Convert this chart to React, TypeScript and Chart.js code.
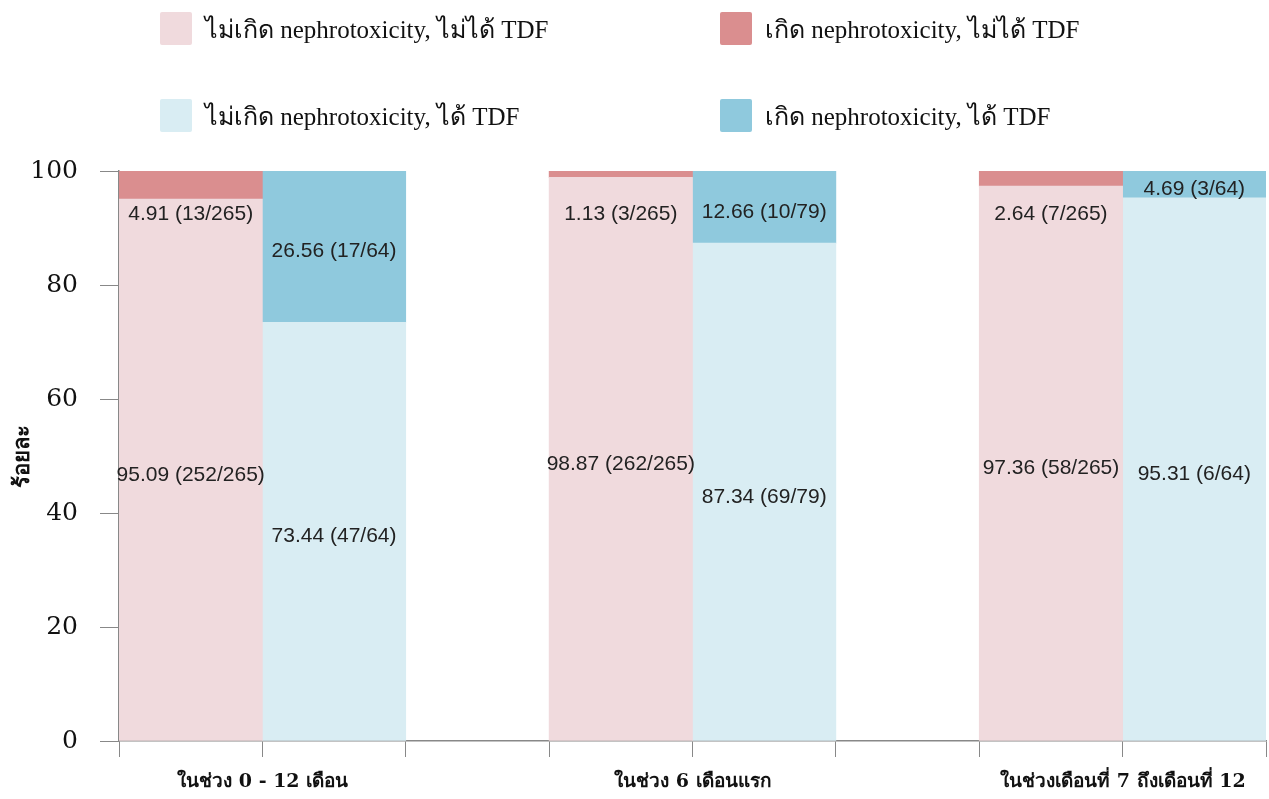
import React, { useEffect, useRef } from 'react';
import { Chart, registerables } from 'chart.js';

Chart.register(...registerables);

// ---- data ----
const categories = ['ในช่วง 0 - 12 เดือน', 'ในช่วง 6 เดือนแรก', 'ในช่วงเดือนที่ 7 ถึงเดือนที่ 12'];
const seriesLabels = [
  'ไม่เกิด nephrotoxicity, ไม่ได้ TDF',
  'เกิด nephrotoxicity, ไม่ได้ TDF',
  'ไม่เกิด nephrotoxicity, ได้ TDF',
  'เกิด nephrotoxicity, ได้ TDF',
];
const noEventNoTDF = [95.09, 98.87, 97.36];
const eventNoTDF = [4.91, 1.13, 2.64];
const noEventTDF = [73.44, 87.34, 95.31];
const eventTDF = [26.56, 12.66, 4.69];
const noEventNoTDFCounts = ['252/265', '262/265', '58/265'];
const eventNoTDFCounts = ['13/265', '3/265', '7/265'];
const noEventTDFCounts = ['47/64', '69/79', '6/64'];
const eventTDFCounts = ['17/64', '10/79', '3/64'];
const yTicks = [0, 20, 40, 60, 80, 100];
const yTitle = 'ร้อยละ';

const colors = ['#f0dadd', '#da8e8f', '#d9edf3', '#8fc9dd'];

const labelPlugin = {
  id: 'segLabels',
  afterDatasetsDraw(chart: any) {
    const ctx = chart.ctx;
    ctx.save();
    ctx.font = '21px "Liberation Sans", Arial, sans-serif';
    ctx.fillStyle = '#222';
    ctx.textAlign = 'center';
    ctx.textBaseline = 'middle';
    chart.data.datasets.forEach((ds: any, di: number) => {
      const meta = chart.getDatasetMeta(di);
      meta.data.forEach((el: any, i: number) => {
        const v = ds.data[i];
        if (v == null) return;
        const { x, y, base } = el.getProps(['x', 'y', 'base'], true);
        let ty = (y + base) / 2 + 5;
        if (ds.minLabelDrop) ty = Math.max(ty, chart.chartArea.top + ds.minLabelDrop);
        ctx.fillText(`${v.toFixed(2)} (${ds.counts[i]})`, x, ty);
      });
    });
    ctx.restore();
  },
};

export default function App() {
  const ref = useRef<HTMLCanvasElement>(null);

  useEffect(() => {
    if (!ref.current) return;
    const groupSize = 3;
    const nSlots = categories.length * groupSize - 1;
    const slotLabels = Array.from({ length: nSlots }, (_, i) =>
      i % groupSize === 0 ? categories[i / groupSize] : ''
    );
    const toSlots = (vals: any[], pos: number) =>
      Array.from({ length: nSlots }, (_, i) =>
        i % groupSize === pos ? vals[Math.floor(i / groupSize)] : null
      );

    const chart = new Chart(ref.current, {
      type: 'bar',
      data: {
        labels: slotLabels,
        datasets: [
          { label: seriesLabels[0], data: toSlots(noEventNoTDF, 0), counts: toSlots(noEventNoTDFCounts, 0), backgroundColor: colors[0] } as any,
          { label: seriesLabels[1], data: toSlots(eventNoTDF, 0), counts: toSlots(eventNoTDFCounts, 0), backgroundColor: colors[1], minLabelDrop: 43 } as any,
          { label: seriesLabels[2], data: toSlots(noEventTDF, 1), counts: toSlots(noEventTDFCounts, 1), backgroundColor: colors[2] } as any,
          { label: seriesLabels[3], data: toSlots(eventTDF, 1), counts: toSlots(eventTDFCounts, 1), backgroundColor: colors[3] } as any,
        ],
      },
      options: {
        animation: false,
        responsive: true,
        maintainAspectRatio: false,
        datasets: { bar: { barPercentage: 1, categoryPercentage: 1, borderWidth: 0 } },
        layout: { padding: { top: 171, left: 0, right: 3, bottom: 0 } },
        plugins: { legend: { display: false }, tooltip: { enabled: false } },
        scales: {
          x: {
            stacked: true,
            grid: { drawOnChartArea: false, drawTicks: true, tickLength: 16, color: '#888', offset: true },
            border: { display: true, color: '#888', width: 1.5 },
            ticks: {
              autoSkip: false,
              maxRotation: 0,
              labelOffset: 72,
              padding: 14,
              color: '#111',
              font: { family: '"DejaVu Serif", serif', size: 19, weight: 'bold' },
            },
            afterFit: (s: any) => { s.height = 58; },
          },
          y: {
            stacked: true,
            min: 0,
            max: 100,
            afterBuildTicks: (s: any) => { s.ticks = yTicks.map((v) => ({ value: v })); },
            grid: { drawOnChartArea: false, drawTicks: true, tickLength: 19, color: '#888' },
            border: { display: true, color: '#888', width: 1.5 },
            ticks: {
              padding: 22,
              color: '#111',
              font: { family: '"DejaVu Serif", serif', size: 25 },
            },
            title: {
              display: true,
              text: yTitle,
              color: '#111',
              font: { family: '"DejaVu Serif", serif', size: 22, weight: 'bold' },
              padding: { top: 10, bottom: 0 },
            },
            afterFit: (s: any) => { s.width = 119; },
          },
        },
      },
      plugins: [labelPlugin],
    });
    return () => chart.destroy();
  }, []);

  const legendRows = [[0, 1], [2, 3]];
  return (
    <div style={{ position: 'fixed', left: 0, top: 0, width: 1269, height: 799, background: '#fff' }}>
      <canvas ref={ref} />
      {legendRows.map((row, ri) =>
        row.map((si, ci) => (
          <div
            key={si}
            style={{
              position: 'absolute',
              left: ci === 0 ? 160 : 720,
              top: ri === 0 ? 12 : 99,
              display: 'flex',
              alignItems: 'center',
              height: 33,
              whiteSpace: 'nowrap',
            }}
          >
            <span style={{ display: 'inline-block', width: 32, height: 33, background: colors[si], borderRadius: 2 }} />
            <span style={{ marginLeft: 13, fontFamily: '"Liberation Serif", "Times New Roman", serif', fontSize: 25, color: '#111' }}>
              {seriesLabels[si]}
            </span>
          </div>
        ))
      )}
    </div>
  );
}
